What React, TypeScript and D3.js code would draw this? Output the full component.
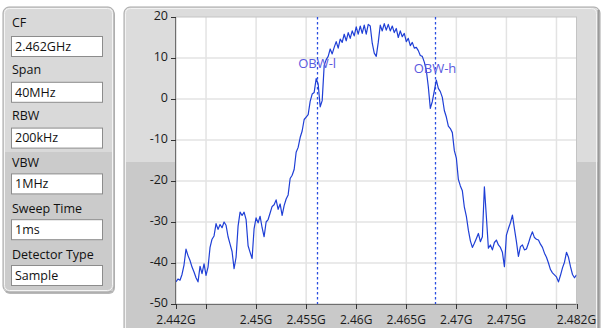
import React from "react";
import * as d3 from "d3";

// Spectrum sweep: 2.442 GHz .. 2.482 GHz, one sample every 0.2 MHz (dBm)
const startGHz = 2.442;
const stopGHz = 2.482;
const stepGHz = 0.0002;
const levels = [
  -44.6, -43.9, -44.2, -42.8, -40.5, -36.6, -38.2, -39.4, -41.0, -42.2,
  -43.6, -44.6, -40.8, -42.6, -40.2, -43.0, -41.0, -36.2, -34.2, -33.4,
  -30.4, -31.8, -30.6, -31.4, -30.0, -30.8, -33.6, -35.4, -37.2, -41.4,
  -38.6, -31.0, -27.6, -28.4, -27.6, -29.4, -35.8, -37.4, -38.9, -31.6,
  -29.0, -30.2, -28.6, -31.4, -33.6, -30.0, -29.4, -27.8, -26.2, -25.8,
  -24.6, -26.9, -25.6, -28.4, -26.0, -24.4, -23.4, -19.4, -18.6, -17.2,
  -13.0, -11.8, -9.4, -7.8, -5.0, -4.4, -3.8, -0.6, 1.2, 1.6,
  5.0, 3.6, -1.9, -0.4, 8.2, 9.6, 10.4, 12.2, 11.0, 12.6,
  14.0, 12.4, 14.6, 13.8, 15.8, 14.2, 16.2, 14.8, 16.6, 15.4,
  17.6, 15.8, 17.8, 16.0, 18.0, 15.8, 18.2, 17.8, 13.6, 11.2,
  10.4, 13.8, 18.0, 16.6, 18.4, 16.8, 18.2, 16.6, 17.8, 16.2,
  17.2, 15.0, 16.6, 15.2, 16.0, 14.0, 14.8, 13.0, 13.8, 12.4,
  12.6, 11.8, 10.6, 10.4, 9.0, 7.0, 3.0, -2.3, -0.6, 2.0,
  4.6, 2.6, 1.8, 0.4, -2.8, -4.4, -6.6, -7.2, -8.2, -12.6,
  -14.4, -19.6, -21.2, -22.4, -26.4, -28.6, -32.0, -34.6, -36.2, -35.2,
  -34.0, -32.8, -34.8, -33.6, -21.4, -28.8, -36.4, -35.6, -36.8, -35.0,
  -34.4, -35.6, -36.2, -37.4, -40.9, -33.2, -31.6, -30.2, -28.3, -31.6,
  -34.8, -38.4, -36.0, -35.6, -36.8, -36.6, -35.2, -33.6, -32.4, -33.8,
  -34.2, -34.4, -35.4, -36.2, -37.6, -38.6, -40.0, -41.6, -42.4, -42.9,
  -43.4, -44.6, -43.0, -41.2, -39.8, -37.4, -38.6, -40.9, -42.8, -43.6,
  -42.9,
];

const yTicks = [20, 10, 0, -10, -20, -30, -40, -50];
const xTicks = [2.442, 2.445, 2.45, 2.455, 2.46, 2.465, 2.47, 2.475, 2.48, 2.482];
const xTickLabels = ["2.442G", "", "2.45G", "2.455G", "2.46G", "2.465G", "2.47G", "2.475G", "", "2.482G"];
const xGridLines = [2.445, 2.45, 2.455, 2.46, 2.465, 2.47, 2.475, 2.48];

const markerNames = ["OBW-l", "OBW-h"];
const markerFreqs = [2.4561, 2.46787];
const markerLabelLevels = [8.6, 7.4];

const paramLabels = ["CF", "Span", "RBW", "VBW", "Sweep Time", "Detector Type"];
const paramValues = ["2.462GHz", "40MHz", "200kHz", "1MHz", "1ms", "Sample"];

const FONT = "'Open Sans', 'DejaVu Sans', sans-serif";
const TRACE = "#1f3fd6";

export default function App() {
  const W = 604;
  const H = 328;
  const plot = { left: 176, right: 576.5, top: 17, bottom: 304 };

  const x = d3.scaleLinear().domain([startGHz, stopGHz]).range([plot.left, plot.right]);
  const y = d3.scaleLinear().domain([-50, 20]).range([plot.bottom, plot.top]);

  const line = d3
    .line<number>()
    .x((_, i) => x(startGHz + i * stepGHz))
    .y((d) => y(d));

  const rowLabelY = (i: number) => 23 + i * 46.4;
  const rowBoxY = (i: number) => 36 + i * 45.8;

  return (
    <svg
      width={W}
      height={H}
      style={{ position: "fixed", left: 0, top: 0, display: "block", background: "#ffffff" }}
      fontFamily={FONT}
    >
      <defs>
        <clipPath id="plotClip">
          <rect x={plot.left} y={plot.top} width={plot.right - plot.left} height={plot.bottom - plot.top} />
        </clipPath>
      </defs>

      {/* settings panel */}
      <g>
        <rect x={4} y={9} width={111} height={285} rx={6} fill="#b8b8b8" />
        <rect x={3} y={7} width={111} height={285} rx={6} fill="#d9d9d9" stroke="#a6a6a6" />
        <rect x={4} y={152} width={109} height={139} fill="#cbcbcb" />
        <rect x={4.5} y={8.5} width={108} height={282} rx={5} fill="none" stroke="#f4f4f4" />
        {paramLabels.map((lab, i) => (
          <g key={lab}>
            <text x={12} y={rowLabelY(i)} dy="0.35em" fontSize={12.5} fill="#111">
              {lab}
            </text>
            <rect x={11.5} y={rowBoxY(i) + 0.5} width={91} height={20} fill="#ffffff" stroke="#8c8c8c" />
            <text x={15} y={rowBoxY(i) + 10.5} dy="0.35em" fontSize={12.5} fill="#111">
              {paramValues[i]}
            </text>
          </g>
        ))}
      </g>

      {/* graph frame */}
      <g>
        <rect x={124} y={7} width={476} height={340} rx={6} fill="#dcdcdc" stroke="#a6a6a6" />
        <rect x={125} y={162} width={474} height={185} fill="#c9c9c9" />
        <rect x={125.5} y={8.5} width={471} height={340} rx={5} fill="none" stroke="#f2f2f2" />
        <line x1={598.5} y1={10} x2={598.5} y2={H} stroke="#9a9a9a" strokeWidth={2} />
      </g>

      {/* plot area */}
      <rect x={plot.left} y={plot.top} width={plot.right - plot.left} height={plot.bottom - plot.top} fill="#ffffff" />
      <g stroke="#e3e3e3" strokeWidth={1.5}>
        {xGridLines.map((f) => (
          <line key={f} x1={x(f)} x2={x(f)} y1={plot.top} y2={plot.bottom} />
        ))}
        {yTicks.slice(1, -1).map((v) => (
          <line key={v} x1={plot.left} x2={plot.right} y1={y(v)} y2={y(v)} />
        ))}
      </g>
      <rect
        x={plot.left}
        y={plot.top}
        width={plot.right - plot.left}
        height={plot.bottom - plot.top}
        fill="none"
        stroke="#c4c4c4"
      />

      {/* OBW markers */}
      <g>
        {markerFreqs.map((f, i) => (
          <line
            key={markerNames[i]}
            x1={Math.round(x(f)) + 0.5}
            x2={Math.round(x(f)) + 0.5}
            y1={plot.top}
            y2={plot.bottom}
            stroke="#2a4ee0"
            strokeWidth={1.3}
            strokeDasharray="2.5 2.5"
          />
        ))}
      </g>

      {/* trace */}
      <path d={line(levels) ?? ""} fill="none" stroke={TRACE} strokeWidth={1.2} strokeLinejoin="round" clipPath="url(#plotClip)" />

      {markerFreqs.map((f, i) => (
        <text
          key={markerNames[i] + "-t"}
          x={x(f)}
          y={y(markerLabelLevels[i])}
          dy="0.35em"
          textAnchor="middle"
          fontSize={13}
          fill="#5a5ae0"
        >
          {markerNames[i]}
        </text>
      ))}

      {/* axes */}
      <line x1={plot.left - 0.5} x2={plot.left - 0.5} y1={plot.top} y2={plot.bottom} stroke="#6e6e6e" />
      <line x1={plot.left} x2={plot.right} y1={plot.bottom + 0.5} y2={plot.bottom + 0.5} stroke="#6e6e6e" />
      <g>
        {yTicks.map((v) => (
          <g key={v}>
            <line x1={plot.left - 5} x2={plot.left} y1={Math.round(y(v)) + 0.5} y2={Math.round(y(v)) + 0.5} stroke="#333" />
            <text x={plot.left - 8} y={y(v) - 1} dy="0.35em" textAnchor="end" fontSize={12.5} fill="#1a1a1a">
              {v}
            </text>
          </g>
        ))}
      </g>
      <g>
        {xTicks.map((f, i) => (
          <g key={f}>
            <line x1={Math.round(x(f)) + 0.5} x2={Math.round(x(f)) + 0.5} y1={plot.bottom} y2={plot.bottom + 5} stroke="#333" />
            {xTickLabels[i] && (
              <text x={x(f)} y={319.5} dy="0.35em" textAnchor="middle" fontSize={12} fill="#1a1a1a">
                {xTickLabels[i]}
              </text>
            )}
          </g>
        ))}
      </g>
    </svg>
  );
}
